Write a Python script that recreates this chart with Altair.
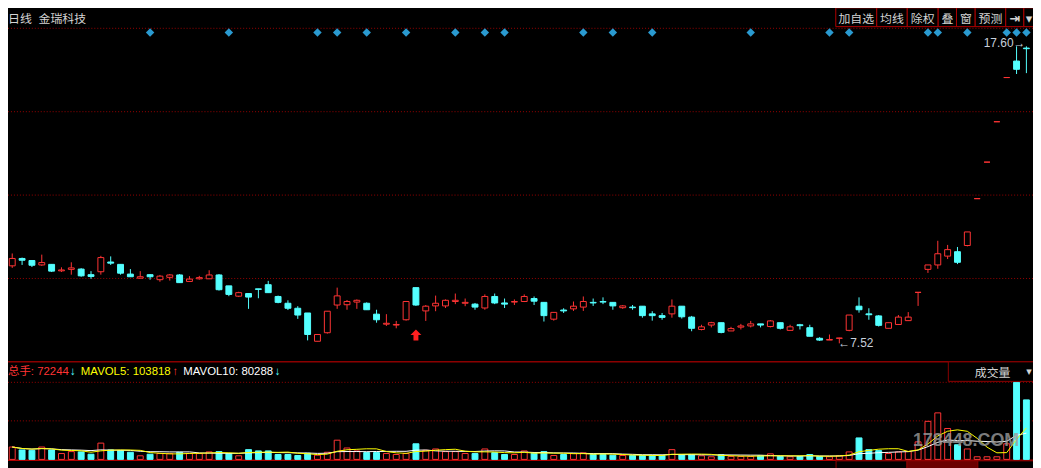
import altair as alt
import pandas as pd

# ---------------- data ----------------
OPEN = [10.15, 10.40, 10.33, 10.18, 10.20, 9.98, 10.03, 10.04, 9.85, 9.95,
        10.28, 10.20, 9.87, 9.73, 9.85, 9.68, 9.76, 9.84, 9.62, 9.71,
        9.71, 9.84, 9.47, 9.12, 9.21, 9.37, 9.51, 9.11, 8.88, 8.71,
        8.55, 7.59, 7.88, 8.82, 8.83, 8.92, 8.88, 8.51, 8.17, 8.14,
        8.32, 9.41, 8.62, 8.79, 8.79, 8.94, 8.88, 8.85, 8.72, 9.11,
        8.89, 8.92, 8.94, 9.04, 8.91, 8.34, 8.65, 8.69, 8.75, 8.91,
        8.94, 8.91, 8.73, 8.75, 8.78, 8.52, 8.46, 8.52, 8.78, 8.41,
        7.99, 8.14, 8.22, 7.94, 8.07, 8.11, 8.18, 8.09, 8.22, 7.96,
        8.15, 8.05, 7.69, 7.63, 7.69, 7.96, 8.78, 8.52, 8.45, 8.03,
        8.16, 8.29, 9.25, 10.03, 10.18, 10.48, 10.63, 10.84, 12.43, 13.67,
        15.04, 16.54, 17.10, 17.54]
HIGH = [10.57, 10.43, 10.33, 10.53, 10.20, 10.10, 10.27, 10.07, 9.97, 10.49,
        10.47, 10.20, 10.04, 9.97, 9.87, 9.84, 9.87, 9.87, 9.80, 9.81,
        10.00, 9.87, 9.47, 9.27, 9.21, 9.37, 9.64, 9.14, 8.98, 8.78,
        8.55, 7.82, 8.61, 9.41, 8.99, 9.01, 8.91, 8.66, 8.51, 8.28,
        8.94, 9.41, 8.82, 9.14, 9.01, 9.21, 9.04, 8.89, 9.18, 9.21,
        9.04, 9.01, 9.18, 9.11, 8.91, 8.57, 8.71, 8.94, 9.11, 9.04,
        9.08, 8.91, 8.82, 8.82, 8.78, 8.61, 8.55, 9.01, 8.78, 8.45,
        8.15, 8.25, 8.22, 8.08, 8.18, 8.28, 8.18, 8.31, 8.22, 8.15,
        8.18, 8.15, 7.73, 7.82, 7.71, 8.48, 9.08, 8.71, 8.48, 8.22,
        8.48, 8.58, 9.25, 10.18, 11.00, 10.86, 10.79, 11.30, 12.43, 13.67,
        15.04, 16.54, 17.60, 17.60]
LOW = [10.08, 10.18, 10.11, 10.15, 9.94, 9.94, 9.85, 9.78, 9.71, 9.85,
       10.18, 9.85, 9.78, 9.73, 9.68, 9.61, 9.65, 9.57, 9.62, 9.68,
       9.71, 9.31, 9.12, 9.09, 8.69, 9.05, 9.24, 8.88, 8.65, 8.35,
       7.62, 7.59, 7.85, 8.69, 8.66, 8.69, 8.66, 8.22, 8.11, 8.03,
       8.29, 8.79, 8.28, 8.61, 8.72, 8.85, 8.78, 8.66, 8.66, 8.85,
       8.72, 8.82, 8.92, 8.82, 8.26, 8.29, 8.55, 8.62, 8.62, 8.79,
       8.85, 8.66, 8.69, 8.66, 8.39, 8.29, 8.32, 8.39, 8.36, 7.93,
       7.96, 8.06, 7.86, 7.94, 7.99, 8.06, 8.06, 8.06, 7.99, 7.96,
       7.99, 7.76, 7.60, 7.63, 7.52, 7.93, 8.56, 8.32, 8.09, 8.03,
       8.16, 8.29, 8.79, 9.91, 10.05, 10.38, 10.21, 10.81, 12.43, 13.67,
       15.04, 16.54, 16.66, 16.69]
CLOSE = [10.40, 10.34, 10.17, 10.26, 9.97, 10.01, 10.08, 9.81, 9.79, 10.43,
         10.24, 9.90, 9.78, 9.78, 9.78, 9.80, 9.84, 9.58, 9.70, 9.75,
         9.84, 9.34, 9.18, 9.24, 9.09, 9.35, 9.24, 8.91, 8.71, 8.48,
         7.82, 7.82, 8.61, 9.13, 8.94, 8.98, 8.66, 8.32, 8.20, 8.16,
         8.94, 8.82, 8.78, 8.88, 8.98, 8.98, 8.91, 8.75, 9.11, 8.89,
         8.85, 8.94, 9.11, 8.95, 8.46, 8.57, 8.62, 8.78, 8.94, 8.89,
         8.92, 8.79, 8.79, 8.73, 8.46, 8.46, 8.40, 8.78, 8.42, 8.03,
         8.08, 8.22, 7.89, 8.02, 8.11, 8.18, 8.14, 8.28, 8.03, 8.08,
         8.12, 7.76, 7.63, 7.65, 7.70, 8.48, 8.66, 8.49, 8.13, 8.22,
         8.41, 8.41, 9.25, 10.18, 10.56, 10.70, 10.27, 11.30, 12.43, 13.67,
         15.04, 16.54, 16.82, 17.52]
VOLUME = [40600, 31000, 29800, 40600, 31000, 19200, 25600, 24600, 17000, 53400,
          31000, 28800, 23400, 11800, 17000, 19200, 19200, 23400, 19200, 19200,
          24600, 25600, 19200, 11800, 32000, 27800, 27800, 16000, 16000, 12800,
          20200, 13800, 23400, 63000, 37400, 27800, 22400, 22400, 19200, 16000,
          19200, 51200, 29800, 34200, 25600, 25600, 19200, 19200, 34200, 22400,
          16000, 16000, 27800, 20200, 25600, 12800, 16000, 19200, 21400, 16000,
          16000, 13800, 12800, 12800, 12800, 12800, 12800, 32000, 15000, 15000,
          11800, 8600, 15000, 9600, 9600, 9600, 11800, 18200, 9600, 8600,
          9600, 16000, 9600, 8600, 11800, 24600, 70400, 32000, 28800, 19200,
          24600, 25600, 57600, 124800, 152600, 101400, 48000, 34200, 8600, 8600,
          8600, 51200, 252800, 195200]
SIGNAL_DAYS = [14, 22, 31, 33, 36, 40, 45, 48, 50, 58, 61, 65, 75, 83, 85,
               93, 94, 97, 101, 102, 103]
BUY_DAY = [41]
BUY_PRICE = [7.80]
PERIOD = "日线"
STOCK = "金瑞科技"
BUTTONS = ["加自选", "均线", "除权", "叠", "窗", "预测", "⇥", "▾"]
HIGH_DAY, HIGH_LABEL = 103, "17.60→"
LOW_DAY, LOW_LABEL = 84, "←7.52"
VOL_TEXTS = ["总手: 72244", "↓", "MAVOL5: 103818", "↑", "MAVOL10: 80288", "↓"]
VOL_TITLE = "成交量"
WATERMARK = "178448.COM"

# ---------------- layout ----------------
W, H = 1033, 460
SX, SY = W / 1041, H / 468
def X(v): return v * SX
def Y(v): return v * SY

RED = "#FF3434"
CYAN = "#54FFFF"
GRID = "#990000"
LINE = "#8B0000"
BLUE = "#2A9AD0"
TXT = "#D4D4D4"
CJK = "Noto Sans CJK SC"
LAT = "Liberation Sans, Noto Sans CJK SC, DejaVu Sans"

PRICE_DOMAIN = [6.891, 18.211]
n = len(OPEN)
df = pd.DataFrame({"day": list(range(n)), "open": OPEN, "high": HIGH,
                   "low": LOW, "close": CLOSE, "volume": VOLUME})
df["dir"] = ["up" if c >= o else "down" for o, c in zip(OPEN, CLOSE)]
VMAX = max(VOLUME)

xs = alt.Scale(domain=[-0.43, 103.67], range=[0, W], nice=False, zero=False)
ps = alt.Scale(domain=PRICE_DOMAIN, range=[Y(361), Y(19)], nice=False, zero=False)
vs = alt.Scale(domain=[0, VMAX], range=[Y(461), Y(382)], nice=False, zero=False)
cs = alt.Scale(domain=["up", "down"], range=[RED, CYAN])
fs = alt.Scale(domain=["up", "down"], range=["#000000", CYAN])

base = alt.Chart(df)
HALF = 0.3
layers = []

# grid lines
step = (PRICE_DOMAIN[1] - PRICE_DOMAIN[0]) / 4
pgrid = pd.DataFrame({"p": [PRICE_DOMAIN[0] + step * i for i in range(1, 5)]})
layers.append(alt.Chart(pgrid).mark_rule(color=GRID, strokeDash=[1, 2], strokeWidth=1).encode(
    y=alt.Y("p:Q", scale=ps, axis=None)))
vgrid = pd.DataFrame({"v": [VMAX / 2, VMAX]})
layers.append(alt.Chart(vgrid).mark_rule(color=GRID, strokeDash=[1, 2], strokeWidth=1).encode(
    y=alt.Y("v:Q", scale=vs, axis=None)))
dummy = pd.DataFrame({"a": [0]})
layers.append(alt.Chart(dummy).mark_rule(color=LINE, strokeWidth=1.5).encode(y=alt.value(Y(361))))
layers.append(alt.Chart(dummy).mark_rule(color="#B00000", strokeWidth=1.5).encode(y=alt.value(Y(461.8))))

# candles
layers.append(base.mark_rule(strokeWidth=1).encode(
    x=alt.X("day:Q", scale=xs, axis=None),
    y=alt.Y("low:Q", scale=ps, axis=None), y2="high:Q",
    color=alt.Color("dir:N", scale=cs, legend=None)))
layers.append(base.transform_calculate(
    x0=f"datum.day - {HALF}", x1=f"datum.day + {HALF}").mark_rect(strokeWidth=1).encode(
    x=alt.X("x0:Q", scale=xs, axis=None), x2="x1:Q",
    y=alt.Y("open:Q", scale=ps, axis=None), y2="close:Q",
    fill=alt.Fill("dir:N", scale=fs, legend=None),
    stroke=alt.Stroke("dir:N", scale=cs, legend=None)))

# volume bars
layers.append(base.transform_calculate(
    x0=f"datum.day - {HALF}", x1=f"datum.day + {HALF}", zero="0").mark_rect(strokeWidth=1).encode(
    x=alt.X("x0:Q", scale=xs, axis=None), x2="x1:Q",
    y=alt.Y("volume:Q", scale=vs, axis=None), y2="zero:Q",
    fill=alt.Fill("dir:N", scale=fs, legend=None),
    stroke=alt.Stroke("dir:N", scale=cs, legend=None)))
layers.append(base.transform_window(ma10="mean(volume)", frame=[-9, 0], sort=[{"field": "day"}])
              .mark_line(color="#FFFFFF", strokeWidth=1).encode(
    x=alt.X("day:Q", scale=xs, axis=None), y=alt.Y("ma10:Q", scale=vs, axis=None)))
layers.append(base.transform_window(ma5="mean(volume)", frame=[-4, 0], sort=[{"field": "day"}])
              .mark_line(color="#FFFF00", strokeWidth=1).encode(
    x=alt.X("day:Q", scale=xs, axis=None), y=alt.Y("ma5:Q", scale=vs, axis=None)))

# signal diamonds
layers.append(alt.Chart(pd.DataFrame({"day": SIGNAL_DAYS})).mark_point(
    shape="diamond", filled=True, size=72, color=BLUE, opacity=1).encode(
    x=alt.X("day:Q", scale=xs, axis=None), y=alt.value(Y(23.3))))

# buy arrow
ARROW = "M0,-1L1,0L0.45,0L0.45,1L-0.45,1L-0.45,0L-1,0Z"
layers.append(alt.Chart(pd.DataFrame({"day": BUY_DAY, "p": BUY_PRICE})).mark_point(
    shape=ARROW, filled=True, size=121, color="#FF2020", opacity=1).encode(
    x=alt.X("day:Q", scale=xs, axis=None), y=alt.Y("p:Q", scale=ps, axis=None)))

# high / low labels
layers.append(alt.Chart(pd.DataFrame({"day": [HIGH_DAY], "p": [max(HIGH)], "t": [HIGH_LABEL]})).mark_text(
    align="right", baseline="middle", dx=-1, dy=-3, font=LAT, fontSize=12, color="#C8D0DC").encode(
    x=alt.X("day:Q", scale=xs, axis=None), y=alt.Y("p:Q", scale=ps, axis=None), text="t:N"))
layers.append(alt.Chart(pd.DataFrame({"day": [LOW_DAY], "p": [min(LOW)], "t": [LOW_LABEL]})).mark_text(
    align="left", baseline="middle", dx=-1, dy=0, font=LAT, fontSize=12, color="#C8D0DC").encode(
    x=alt.X("day:Q", scale=xs, axis=None), y=alt.Y("p:Q", scale=ps, axis=None), text="t:N"))

# header title
layers.append(alt.Chart(dummy).mark_text(align="left", baseline="middle", font=CJK, fontSize=12,
                                         color=TXT, text=PERIOD).encode(x=alt.value(X(0)), y=alt.value(Y(9.5))))
layers.append(alt.Chart(dummy).mark_text(align="left", baseline="middle", font=CJK, fontSize=12,
                                         color=TXT, text=STOCK).encode(x=alt.value(X(31)), y=alt.value(Y(9.5))))

# buttons
edges = [840.7, 882.3, 913.3, 944.7, 963.3, 982.3, 1013.3, 1031.7, 1046]
for i, lab in enumerate(BUTTONS):
    a, b = edges[i], edges[i + 1]
    layers.append(alt.Chart(dummy).mark_rect(fill="#000000", stroke="#B00000", strokeWidth=1).encode(
        x=alt.value(X(a)), x2=alt.value(X(b)), y=alt.value(Y(-2)), y2=alt.value(Y(17.3))))
    cx = (a + b) / 2 if i < len(BUTTONS) - 1 else 1037
    layers.append(alt.Chart(dummy).mark_text(
        align="center", baseline="middle", font=CJK if i < 6 else "DejaVu Sans",
        fontSize=12 if i < 6 else 13, fontWeight="normal" if i < 6 else "bold",
        color=TXT, text=lab).encode(x=alt.value(X(cx)), y=alt.value(Y(9))))

# volume header texts
vx = [0, 63, 74, 167, 178, 271]
vc = [RED, CYAN, "#FFFF00", RED, "#FFFFFF", CYAN]
for t, x0, c in zip(VOL_TEXTS, vx, vc):
    layers.append(alt.Chart(dummy).mark_text(align="left", baseline="middle", font=LAT, fontSize=11.5,
                                             color=c, text=t).encode(x=alt.value(X(x0)), y=alt.value(Y(371.5))))

# 成交量 box
layers.append(alt.Chart(dummy).mark_rect(fill="#000000", stroke=LINE, strokeWidth=1).encode(
    x=alt.value(X(955)), x2=alt.value(X(1046)), y=alt.value(Y(361)), y2=alt.value(Y(381))))
layers.append(alt.Chart(dummy).mark_text(align="center", baseline="middle", font=CJK, fontSize=12,
                                         color=TXT, text=VOL_TITLE).encode(x=alt.value(X(1000)), y=alt.value(Y(372))))
layers.append(alt.Chart(dummy).mark_text(align="center", baseline="middle", font="DejaVu Sans", fontSize=11,
                                         color=TXT, text="▾").encode(x=alt.value(X(1037)), y=alt.value(Y(371))))

# bottom tabs (cropped)
tabs = [(841, 913, "#000000"), (913, 985, "#6B0000"), (985, 1046, "#000000")]
for a, b, f in tabs:
    layers.append(alt.Chart(dummy).mark_rect(fill=f, stroke=LINE, strokeWidth=1).encode(
        x=alt.value(X(a)), x2=alt.value(X(b)), y=alt.value(Y(462.5)), y2=alt.value(Y(475))))

# watermark
layers.append(alt.Chart(dummy).mark_text(align="center", baseline="middle",
                                         font="Liberation Sans Narrow, Liberation Sans", fontSize=18,
                                         fontWeight="bold", color="#9A9A9A", opacity=0.8,
                                         text=WATERMARK).encode(x=alt.value(X(973)), y=alt.value(Y(442))))

chart = alt.layer(*layers).resolve_scale(y="independent").properties(
    width=W, height=H, padding=0, background="#000000",
    autosize=alt.AutoSizeParams(type="none"),
).configure_view(strokeWidth=0)

chart.save("out.html", embed_options={"renderer": "svg", "actions": False})
